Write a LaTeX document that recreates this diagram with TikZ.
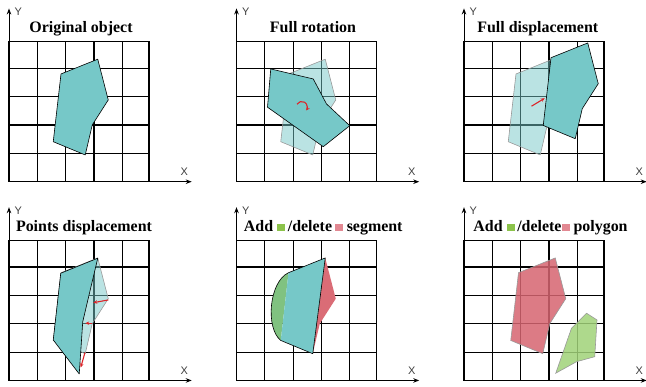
\documentclass[tikz,border=0pt]{standalone}
\usepackage{fontspec}
\setmainfont{Liberation Serif}
\newfontfamily\axisfont{Liberation Sans}
\usetikzlibrary{arrows.meta}

\definecolor{objteal}{RGB}{118,200,200}
\definecolor{movered}{RGB}{220,35,40}
\definecolor{segred}{RGB}{218,108,118}
\definecolor{seggreen}{RGB}{128,194,128}
\definecolor{polyred}{RGB}{214,100,112}
\definecolor{polygreen}{RGB}{160,210,120}
\definecolor{keygreen}{RGB}{140,195,75}
\definecolor{keyred}{RGB}{226,136,146}

\newcommand{\keysq}[1]{\textcolor{#1}{\rule{8bp}{7.5bp}}}

\begin{document}
\begin{tikzpicture}[x=25bp, y=25bp,
    gridline/.style={line width=1.2pt},
    axis/.style={line width=1pt, -{Stealth[length=6bp,width=4.5bp]}},
    title/.style={anchor=base, font=\fontsize{16}{18}\selectfont\bfseries},
    axislabel/.style={font=\fontsize{11}{12}\selectfont\axisfont, text=black!75},
    objshape/.style={fill=objteal, draw=black, line width=0.6pt, line join=round},
    ghost/.style={fill=objteal, fill opacity=0.5, draw=black!40, line width=0.6pt, line join=round},
    move/.style={draw=movered, line width=1.1pt, -{Stealth[length=4bp,width=3.5bp]}}]

    \useasboundingbox (-0.36,-8.212) rectangle (25.48,7.268);

    % Grids and axes
    \foreach \px/\py [count=\i] in {0/0, 9.1/0, 18.2/0, 0/-7.95, 9.1/-7.95, 18.2/-7.95} {
        \begin{scope}[shift={(\px,\py)}]
            \draw[gridline] (0,0) grid (5.6,5.6);
            \draw[gridline] (0,0) rectangle (5.6,5.6);
            \draw[axis] (0,0) -- (7.31,0);
            \draw[axis] (0,0) -- (0,6.93);
            \node[axislabel] (xlab\i) at (7.01,0.4) {X};
            \node[axislabel] (ylab\i) at (0.37,6.8) {Y};
        \end{scope}
    }

    % Original object
    \fill[objshape] (2.08,4.31) -- (3.55,4.90) -- (3.97,3.27) -- (3.33,2.27) -- (3.05,1.07) -- (1.77,1.60) -- cycle;
    \node[title] (t1) at (2.88,5.97) {Original object};

    % Full rotation
    \begin{scope}[shift={(9.1,0)}]
        \fill[ghost] (2.08,4.31) -- (3.55,4.90) -- (3.97,3.27) -- (3.33,2.27) -- (3.05,1.07) -- (1.77,1.60) -- cycle;
        \fill[objshape] (1.37,4.51) -- (3.07,4.11) -- (3.60,3.11) -- (4.53,2.24) -- (3.47,1.40) -- (1.24,2.98) -- cycle;
        \draw[move] (2.42,3.1) arc[start angle=150, end angle=-40, radius=0.22];
        \node[title] (t2) at (3.06,5.97) {Full rotation};
    \end{scope}

    % Full displacement
    \begin{scope}[shift={(18.2,0)}]
        \fill[ghost] (2.08,4.31) -- (3.55,4.90) -- (3.97,3.27) -- (3.33,2.27) -- (3.05,1.07) -- (1.77,1.60) -- cycle;
        \fill[objshape, shift={(1.4,0.65)}] (2.08,4.31) -- (3.55,4.90) -- (3.97,3.27) -- (3.33,2.27) -- (3.05,1.07) -- (1.77,1.60) -- cycle;
        \draw[move] (2.70,3.02) -- (3.23,3.34);
        \node[title] (t3) at (2.95,5.97) {Full displacement};
    \end{scope}

    % Points displacement
    \begin{scope}[shift={(0,-7.95)}]
        \fill[ghost] (2.08,4.31) -- (3.55,4.90) -- (3.97,3.27) -- (3.33,2.27) -- (3.05,1.07) -- (1.77,1.60) -- cycle;
        \fill[objshape] (2.07,4.29) -- (3.55,4.89) -- (3.15,3.20) -- (2.95,2.35) -- (2.81,0.26) -- (1.77,1.62) -- cycle;
        \draw[move] (3.97,3.22) -- (3.37,3.11);
        \draw[move] (3.31,2.29) -- (3.05,2.29);
        \draw[move] (3.04,1.12) -- (2.87,0.52);
        \node[title] (t4) at (3.0,5.97) {Points displacement};
    \end{scope}

    % Add / delete segment
    \begin{scope}[shift={(9.1,-7.95)}]
        \fill[segred] (3.55,4.90) -- (3.97,3.27) -- (3.33,2.27) -- (3.05,1.07) -- cycle;
        \fill[seggreen] (2.08,4.31) .. controls (1.3,3.95) and (1.15,2.1) .. (1.77,1.60) -- cycle;
        \fill[objteal] (2.08,4.31) -- (3.55,4.90) -- (3.05,1.07) -- (1.77,1.60) -- cycle;
        \draw[line width=0.6pt, line join=round] (1.77,1.60) .. controls (1.15,2.1) and (1.3,3.95) .. (2.08,4.31) -- (3.55,4.90) -- (3.05,1.07) -- cycle;
        \node[title] (t5) at (3.47,5.97) {Add \keysq{keygreen}\,/delete\,\keysq{keyred} segment};
    \end{scope}

    % Add / delete polygon
    \begin{scope}[shift={(18.2,-7.95)}]
        \fill[polyred, fill opacity=0.85, draw=black!40, line width=0.6pt, shift={(0.1,0)}] (2.08,4.31) -- (3.55,4.90) -- (3.97,3.27) -- (3.33,2.27) -- (3.05,1.07) -- (1.77,1.60) -- cycle;
        \fill[polygreen, fill opacity=0.85, draw=black!40, line width=0.6pt] (4.90,2.69) -- (5.32,2.42) -- (5.23,0.95) -- (4.50,0.75) -- (3.67,0.29) -- (4.30,2.09) -- cycle;
        \node[title] (t6) at (3.46,5.97) {Add \keysq{keygreen}\,/delete\keysq{keyred} polygon};
    \end{scope}

\end{tikzpicture}
\end{document}
